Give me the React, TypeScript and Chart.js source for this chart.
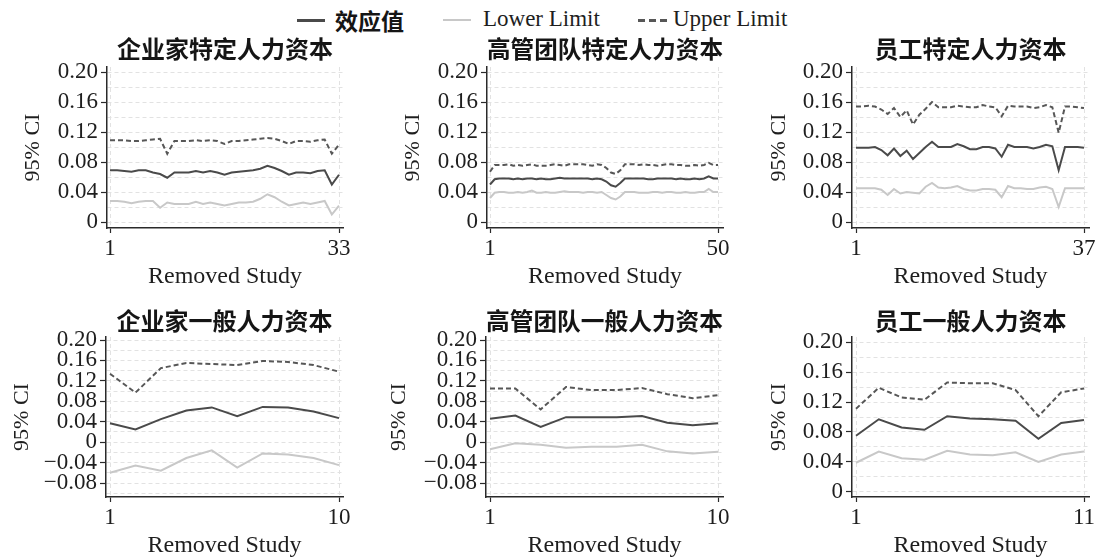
import React, { useEffect, useRef } from "react";
import { Chart, registerables } from "chart.js";

Chart.register(...registerables);

// ---------------- data ----------------
const panelTitles = [
  "企业家特定人力资本",
  "高管团队特定人力资本",
  "员工特定人力资本",
  "企业家一般人力资本",
  "高管团队一般人力资本",
  "员工一般人力资本",
];

const seriesNames = ["效应值", "Lower Limit", "Upper Limit"];
const xAxisTitle = "Removed Study";
const yAxisTitle = "95% CI";

const effect1 = [0.069, 0.069, 0.068, 0.067, 0.069, 0.069, 0.066, 0.064, 0.059, 0.066, 0.066, 0.066, 0.068, 0.066, 0.068, 0.066, 0.063, 0.066, 0.067, 0.068, 0.069, 0.071, 0.075, 0.072, 0.068, 0.063, 0.066, 0.066, 0.065, 0.068, 0.069, 0.050, 0.063];
const lower1 = [0.028, 0.028, 0.027, 0.025, 0.027, 0.028, 0.028, 0.019, 0.026, 0.024, 0.024, 0.024, 0.027, 0.024, 0.026, 0.024, 0.022, 0.024, 0.026, 0.026, 0.027, 0.031, 0.037, 0.033, 0.027, 0.022, 0.024, 0.026, 0.024, 0.026, 0.028, 0.010, 0.022];
const upper1 = [0.109, 0.109, 0.109, 0.108, 0.108, 0.109, 0.110, 0.111, 0.091, 0.108, 0.108, 0.108, 0.109, 0.108, 0.109, 0.108, 0.104, 0.108, 0.108, 0.109, 0.110, 0.111, 0.112, 0.111, 0.108, 0.104, 0.108, 0.108, 0.107, 0.109, 0.110, 0.091, 0.103];

const effect2 = [0.050, 0.057, 0.058, 0.058, 0.058, 0.057, 0.058, 0.057, 0.058, 0.058, 0.057, 0.058, 0.057, 0.057, 0.058, 0.059, 0.058, 0.058, 0.058, 0.058, 0.058, 0.058, 0.057, 0.058, 0.057, 0.054, 0.049, 0.047, 0.052, 0.058, 0.058, 0.058, 0.058, 0.058, 0.057, 0.057, 0.058, 0.058, 0.058, 0.058, 0.057, 0.058, 0.057, 0.057, 0.058, 0.057, 0.058, 0.061, 0.058, 0.058];
const lower2 = [0.032, 0.039, 0.040, 0.040, 0.039, 0.039, 0.040, 0.039, 0.040, 0.042, 0.039, 0.039, 0.040, 0.039, 0.039, 0.040, 0.041, 0.040, 0.040, 0.040, 0.039, 0.040, 0.040, 0.039, 0.040, 0.036, 0.032, 0.030, 0.034, 0.040, 0.040, 0.040, 0.039, 0.039, 0.039, 0.040, 0.040, 0.039, 0.040, 0.040, 0.039, 0.039, 0.040, 0.039, 0.039, 0.040, 0.040, 0.044, 0.040, 0.040];
const upper2 = [0.067, 0.076, 0.076, 0.076, 0.077, 0.075, 0.076, 0.075, 0.076, 0.077, 0.075, 0.075, 0.075, 0.076, 0.077, 0.076, 0.075, 0.077, 0.077, 0.077, 0.077, 0.076, 0.075, 0.077, 0.076, 0.072, 0.066, 0.064, 0.069, 0.077, 0.077, 0.077, 0.076, 0.077, 0.076, 0.076, 0.075, 0.076, 0.077, 0.077, 0.076, 0.076, 0.075, 0.075, 0.076, 0.075, 0.076, 0.079, 0.076, 0.076];

const effect3 = [0.099, 0.099, 0.099, 0.100, 0.096, 0.089, 0.098, 0.088, 0.095, 0.084, 0.092, 0.100, 0.107, 0.100, 0.100, 0.100, 0.104, 0.101, 0.097, 0.097, 0.100, 0.100, 0.098, 0.087, 0.103, 0.100, 0.100, 0.100, 0.098, 0.100, 0.103, 0.101, 0.069, 0.100, 0.100, 0.100, 0.099];
const lower3 = [0.045, 0.045, 0.045, 0.045, 0.043, 0.036, 0.044, 0.038, 0.040, 0.039, 0.038, 0.047, 0.052, 0.046, 0.045, 0.046, 0.048, 0.044, 0.042, 0.042, 0.044, 0.044, 0.043, 0.033, 0.048, 0.045, 0.045, 0.044, 0.044, 0.046, 0.047, 0.044, 0.020, 0.045, 0.045, 0.045, 0.045];
const upper3 = [0.154, 0.154, 0.155, 0.154, 0.150, 0.144, 0.152, 0.140, 0.149, 0.130, 0.143, 0.151, 0.160, 0.153, 0.153, 0.153, 0.155, 0.154, 0.153, 0.153, 0.156, 0.154, 0.153, 0.141, 0.155, 0.154, 0.154, 0.154, 0.152, 0.153, 0.156, 0.153, 0.119, 0.154, 0.154, 0.153, 0.152];

const effect4 = [0.037, 0.025, 0.045, 0.062, 0.068, 0.051, 0.069, 0.068, 0.060, 0.047];
const lower4 = [-0.060, -0.046, -0.056, -0.031, -0.016, -0.050, -0.022, -0.024, -0.031, -0.045];
const upper4 = [0.134, 0.097, 0.145, 0.155, 0.153, 0.151, 0.159, 0.157, 0.151, 0.138];

const effect5 = [0.046, 0.052, 0.030, 0.049, 0.049, 0.049, 0.051, 0.038, 0.033, 0.037];
const lower5 = [-0.014, -0.002, -0.005, -0.011, -0.009, -0.009, -0.005, -0.018, -0.022, -0.019];
const upper5 = [0.105, 0.105, 0.064, 0.108, 0.102, 0.102, 0.106, 0.094, 0.086, 0.092];

const effect6 = [0.075, 0.097, 0.086, 0.083, 0.101, 0.098, 0.097, 0.095, 0.071, 0.092, 0.096];
const lower6 = [0.039, 0.054, 0.045, 0.043, 0.055, 0.050, 0.049, 0.053, 0.040, 0.050, 0.054];
const upper6 = [0.111, 0.139, 0.126, 0.123, 0.146, 0.145, 0.145, 0.136, 0.101, 0.133, 0.138];

// y grid lines (every 0.02) and labelled ticks (every 0.04)
const yGridPositive = [0, 0.02, 0.04, 0.06, 0.08, 0.1, 0.12, 0.14, 0.16, 0.18, 0.2];
const yGridWide = [-0.1, -0.08, -0.06, -0.04, -0.02, 0, 0.02, 0.04, 0.06, 0.08, 0.1, 0.12, 0.14, 0.16, 0.18, 0.2];
const yLabelsPositive = [0, 0.04, 0.08, 0.12, 0.16, 0.2];
const yLabelsWide = [-0.08, -0.04, 0, 0.04, 0.08, 0.12, 0.16, 0.2];

// ---------------- layout / style ----------------
const SERIF = '"Liberation Serif", "Times New Roman", serif';
const CJK = '"Noto Sans CJK SC", "Noto Sans", sans-serif';
const C_EFFECT = "#4a4a4a";
const C_LOWER = "#c8c8c8";
const C_UPPER = "#575757";
const C_AXIS = "#2a2a2a";
const C_GRID = "#e2e2e2";

type Spec = {
  title: string;
  effect: number[];
  lower: number[];
  upper: number[];
  grid: number[];
  labels: number[];
  axisL: number; axisR: number; tick1: number; tickN: number;
  axisTop: number; axisBottom: number;
  yMin: number; yMax: number;
  titleGap: number; yTitlePad: number;
};

const Y_AXIS_W = 100;
const X_AXIS_H = 62;
const PAD_R = 15;
const TITLE_PAD_TOP = 7;
const TITLE_FONT = 24;
const TICK_FONT = 23;

const specs: Spec[] = [
  { title: panelTitles[0], effect: effect1, lower: lower1, upper: upper1, grid: yGridPositive, labels: yLabelsPositive,
    axisL: 107, axisR: 343, tick1: 110, tickN: 339, axisTop: 67, axisBottom: 228, yMin: -0.008, yMax: 0.2067, titleGap: 6, yTitlePad: 15 },
  { title: panelTitles[1], effect: effect2, lower: lower2, upper: upper2, grid: yGridPositive, labels: yLabelsPositive,
    axisL: 487, axisR: 723, tick1: 490, tickN: 718, axisTop: 67, axisBottom: 228, yMin: -0.008, yMax: 0.2067, titleGap: 6, yTitlePad: 15 },
  { title: panelTitles[2], effect: effect3, lower: lower3, upper: upper3, grid: yGridPositive, labels: yLabelsPositive,
    axisL: 852, axisR: 1089, tick1: 856, tickN: 1084, axisTop: 67, axisBottom: 228, yMin: -0.008, yMax: 0.2067, titleGap: 6, yTitlePad: 16.5 },
  { title: panelTitles[3], effect: effect4, lower: lower4, upper: upper4, grid: yGridWide, labels: yLabelsWide,
    axisL: 106, axisR: 343, tick1: 110, tickN: 339, axisTop: 337, axisBottom: 497, yMin: -0.1074, yMax: 0.2059, titleGap: 4, yTitlePad: 5 },
  { title: panelTitles[4], effect: effect5, lower: lower5, upper: upper5, grid: yGridWide, labels: yLabelsWide,
    axisL: 486, axisR: 723, tick1: 490, tickN: 718, axisTop: 337, axisBottom: 497, yMin: -0.1074, yMax: 0.2059, titleGap: 4, yTitlePad: 2 },
  { title: panelTitles[5], effect: effect6, lower: lower6, upper: upper6, grid: yGridPositive, labels: yLabelsPositive,
    axisL: 852, axisR: 1089, tick1: 856, tickN: 1084, axisTop: 337, axisBottom: 497, yMin: -0.0067, yMax: 0.2067, titleGap: 4, yTitlePad: 16.5 },
];

const isLabelled = (v: number, labels: number[]) => labels.some((l) => Math.abs(l - v) < 1e-6);
const fmt = (v: number) => {
  if (Math.abs(v) < 1e-9) return "0";
  return (v < 0 ? "\u2212" : "") + Math.abs(v).toFixed(2);
};

function Panel({ spec }: { spec: Spec }) {
  const ref = useRef<HTMLCanvasElement | null>(null);
  const titleBox = TITLE_FONT + TITLE_PAD_TOP + spec.titleGap;
  const left = spec.axisL - Y_AXIS_W;
  const top = spec.axisTop - titleBox;
  const width = spec.axisR - spec.axisL + Y_AXIS_W + PAD_R;
  const height = spec.axisBottom + X_AXIS_H - top;

  useEffect(() => {
    if (!ref.current) return;
    const n = spec.effect.length;
    const ppu = (spec.tickN - spec.tick1) / (n - 1);
    const xMin = 1 - (spec.tick1 - spec.axisL) / ppu;
    const xMax = n + (spec.axisR - spec.tickN) / ppu;
    const pts = (arr: number[]) => arr.map((v, i) => ({ x: i + 1, y: v }));
    const base = { pointRadius: 0, pointHoverRadius: 0, borderWidth: 2, tension: 0, fill: false };

    const chart = new Chart(ref.current, {
      type: "line",
      data: {
        datasets: [
          { ...base, label: seriesNames[1], data: pts(spec.lower), borderColor: C_LOWER },
          { ...base, label: seriesNames[2], data: pts(spec.upper), borderColor: C_UPPER, borderDash: [5, 3] },
          { ...base, label: seriesNames[0], data: pts(spec.effect), borderColor: C_EFFECT },
        ],
      },
      options: {
        animation: false,
        responsive: false,
        devicePixelRatio: 1,
        layout: { padding: { left: 0, right: PAD_R, top: 0, bottom: 0 } },
        plugins: {
          legend: { display: false },
          tooltip: { enabled: false },
          title: {
            display: true,
            text: spec.title,
            fullSize: false,
            color: "#151515",
            font: { family: CJK, size: TITLE_FONT, weight: "bold", lineHeight: 1 },
            padding: { top: TITLE_PAD_TOP, bottom: spec.titleGap },
          },
        },
        scales: {
          x: {
            type: "linear",
            min: xMin,
            max: xMax,
            afterBuildTicks: (s: any) => { s.ticks = [{ value: 1 }, { value: n }]; },
            afterFit: (s: any) => { s.height = X_AXIS_H; },
            ticks: {
              autoSkip: false, maxRotation: 0, padding: 2, color: "#1e1e1e",
              font: { family: SERIF, size: TICK_FONT },
              callback: (v: any) => String(v),
            },
            grid: { color: C_GRID, lineWidth: 1, tickLength: 5, tickColor: C_AXIS, tickWidth: 1.2, tickBorderDash: [] },
            border: { display: true, color: C_AXIS, width: 1.5, dash: [4, 3] },
            title: {
              display: true, text: xAxisTitle, color: "#1e1e1e",
              font: { family: SERIF, size: 24, lineHeight: 1 },
              padding: { top: 0, bottom: 1.5 },
            },
          },
          y: {
            type: "linear",
            min: spec.yMin,
            max: spec.yMax,
            afterBuildTicks: (s: any) => { s.ticks = spec.grid.map((v) => ({ value: v })); },
            afterFit: (s: any) => { s.width = Y_AXIS_W; },
            ticks: {
              autoSkip: false, padding: 3, color: "#1e1e1e",
              font: { family: SERIF, size: TICK_FONT },
              callback: (v: any) => (isLabelled(Number(v), spec.labels) ? fmt(Number(v)) : ""),
            },
            grid: {
              color: C_GRID, lineWidth: 1, tickLength: 6, tickWidth: 1.2, tickBorderDash: [],
              tickColor: (ctx: any) =>
                ctx.tick && isLabelled(ctx.tick.value, spec.labels) ? C_AXIS : "rgba(0,0,0,0)",
            },
            border: { display: true, color: C_AXIS, width: 1.5, dash: [4, 3] },
            title: {
              display: true, text: yAxisTitle, color: "#1e1e1e",
              font: { family: SERIF, size: 22, lineHeight: 1 },
              padding: { top: spec.yTitlePad, bottom: 0 },
            },
          },
        },
      } as any,
    });
    return () => chart.destroy();
  }, [spec]);

  return (
    <canvas
      ref={ref}
      width={width}
      height={height}
      style={{ position: "absolute", left, top, width, height }}
    />
  );
}

function Legend() {
  const textStyle: React.CSSProperties = {
    position: "absolute", fontFamily: SERIF, fontSize: 23, lineHeight: "23px", color: "#1e1e1e", whiteSpace: "nowrap",
  };
  return (
    <>
      <div style={{ position: "absolute", left: 297, top: 19, width: 28, height: 3, background: C_EFFECT }} />
      <span style={{ ...textStyle, left: 335, top: 9, fontFamily: CJK, fontWeight: "bold", color: "#151515" }}>{seriesNames[0]}</span>
      <div style={{ position: "absolute", left: 443, top: 19, width: 28, height: 2, background: C_LOWER }} />
      <span style={{ ...textStyle, left: 483, top: 7 }}>{seriesNames[1]}</span>
      <div
        style={{
          position: "absolute", left: 638, top: 19, width: 29, height: 3,
          background: `repeating-linear-gradient(to right, ${C_UPPER} 0px, ${C_UPPER} 7px, transparent 7px, transparent 11px)`,
        }}
      />
      <span style={{ ...textStyle, left: 673, top: 7 }}>{seriesNames[2]}</span>
    </>
  );
}

export default function App() {
  return (
    <div style={{ position: "fixed", left: 0, top: 0, width: 1101, height: 558, background: "#ffffff", overflow: "hidden" }}>
      <Legend />
      {specs.map((s, i) => (
        <Panel key={i} spec={s} />
      ))}
    </div>
  );
}
